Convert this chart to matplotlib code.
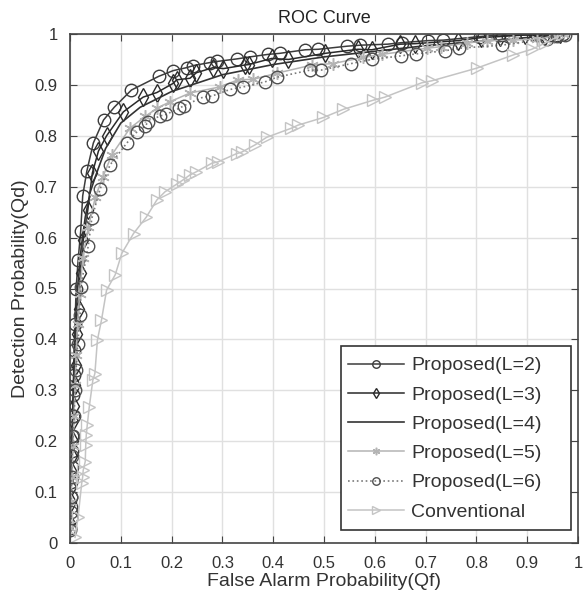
import matplotlib

matplotlib.use('Agg')
import matplotlib.pyplot as plt
from matplotlib.patches import Rectangle

plt.rcParams['font.family'] = ['Liberation Sans', 'DejaVu Sans']

# ROC points
qf_l2 = [0.000, 0.001, 0.001, 0.002, 0.002, 0.003, 0.003, 0.004, 0.005, 0.006, 0.007, 0.008, 0.010, 0.012,
         0.016, 0.021, 0.025, 0.033, 0.046, 0.066, 0.087, 0.121, 0.175, 0.203, 0.230, 0.243, 0.276, 0.289,
         0.328, 0.354, 0.390, 0.413, 0.463, 0.489, 0.545, 0.571, 0.625, 0.653, 0.705, 0.735, 0.807, 0.845,
         0.863, 0.919, 0.945, 0.958, 0.971]
qd_l2 = [0.030, 0.050, 0.070, 0.090, 0.120, 0.150, 0.180, 0.210, 0.250, 0.290, 0.330, 0.380, 0.430, 0.500,
         0.556, 0.612, 0.682, 0.730, 0.786, 0.831, 0.856, 0.890, 0.917, 0.928, 0.934, 0.938, 0.944, 0.946,
         0.951, 0.955, 0.960, 0.962, 0.969, 0.970, 0.976, 0.978, 0.980, 0.983, 0.987, 0.988, 0.995, 0.998,
         0.997, 0.999, 0.998, 0.999, 1.000]

qf_l3 = [0.000, 0.001, 0.002, 0.003, 0.004, 0.005, 0.006, 0.007, 0.009, 0.011, 0.014, 0.017, 0.021, 0.026,
         0.035, 0.044, 0.056, 0.072, 0.105, 0.144, 0.171, 0.203, 0.210, 0.236, 0.249, 0.282, 0.302, 0.344,
         0.352, 0.397, 0.430, 0.502, 0.567, 0.594, 0.650, 0.679, 0.764, 0.810, 0.846, 0.896, 0.935, 0.965]
qd_l3 = [0.040, 0.080, 0.110, 0.140, 0.170, 0.200, 0.240, 0.270, 0.310, 0.350, 0.410, 0.460, 0.530, 0.595,
         0.654, 0.727, 0.770, 0.800, 0.847, 0.876, 0.885, 0.903, 0.910, 0.913, 0.924, 0.934, 0.932, 0.939,
         0.940, 0.952, 0.950, 0.962, 0.970, 0.969, 0.980, 0.981, 0.987, 0.993, 0.995, 0.998, 0.996, 1.000]

qf_l4 = [0.000, 0.003, 0.006, 0.010, 0.015, 0.022, 0.030, 0.040, 0.050, 0.070, 0.100, 0.138, 0.150, 0.200,
         0.300, 0.400, 0.500, 0.600, 0.700, 0.800, 0.900, 0.970]
qd_l4 = [0.030, 0.150, 0.280, 0.400, 0.500, 0.580, 0.640, 0.690, 0.720, 0.775, 0.825, 0.856, 0.862, 0.887,
         0.920, 0.940, 0.955, 0.966, 0.977, 0.985, 0.993, 1.000]

qf_l5 = [0.000, 0.002, 0.004, 0.006, 0.008, 0.010, 0.012, 0.015, 0.019, 0.025, 0.036, 0.050, 0.065, 0.082,
         0.118, 0.148, 0.171, 0.197, 0.236, 0.295, 0.331, 0.361, 0.407, 0.476, 0.518, 0.577, 0.614, 0.702,
         0.730, 0.781, 0.820, 0.873, 0.920, 0.953, 0.970]
qd_l5 = [0.030, 0.080, 0.130, 0.190, 0.250, 0.310, 0.370, 0.430, 0.490, 0.560, 0.620, 0.680, 0.720, 0.762,
         0.815, 0.838, 0.854, 0.867, 0.884, 0.896, 0.910, 0.911, 0.923, 0.939, 0.942, 0.954, 0.960, 0.972,
         0.975, 0.982, 0.987, 0.988, 0.990, 0.995, 1.000]

qf_l6 = [0.000, 0.001, 0.002, 0.003, 0.004, 0.006, 0.008, 0.010, 0.012, 0.015, 0.020, 0.021, 0.036, 0.043,
         0.059, 0.079, 0.112, 0.132, 0.148, 0.154, 0.177, 0.189, 0.215, 0.224, 0.262, 0.279, 0.315, 0.341,
         0.384, 0.407, 0.472, 0.494, 0.554, 0.594, 0.651, 0.682, 0.738, 0.766, 0.850, 0.938, 0.958, 0.975]
qd_l6 = [0.025, 0.060, 0.090, 0.130, 0.170, 0.210, 0.250, 0.300, 0.340, 0.390, 0.448, 0.502, 0.584, 0.638,
         0.695, 0.743, 0.786, 0.808, 0.819, 0.828, 0.839, 0.842, 0.854, 0.859, 0.876, 0.878, 0.891, 0.896,
         0.906, 0.915, 0.929, 0.929, 0.942, 0.950, 0.957, 0.961, 0.967, 0.972, 0.978, 0.991, 0.996, 0.998]

qf_conv = [0.010, 0.016, 0.023, 0.025, 0.026, 0.030, 0.031, 0.032, 0.034, 0.038, 0.045, 0.049, 0.054, 0.062,
           0.072, 0.089, 0.102, 0.125, 0.150, 0.171, 0.187, 0.210, 0.222, 0.236, 0.248, 0.279, 0.292, 0.328,
           0.338, 0.364, 0.387, 0.436, 0.449, 0.499, 0.538, 0.597, 0.620, 0.692, 0.712, 0.801, 0.873, 0.909,
           0.935, 0.970]
qd_conv = [0.011, 0.052, 0.117, 0.130, 0.143, 0.160, 0.193, 0.212, 0.232, 0.268, 0.320, 0.333, 0.399, 0.438,
           0.497, 0.527, 0.569, 0.608, 0.640, 0.674, 0.690, 0.705, 0.713, 0.723, 0.729, 0.746, 0.749, 0.765,
           0.768, 0.782, 0.797, 0.815, 0.821, 0.836, 0.852, 0.870, 0.876, 0.904, 0.908, 0.933, 0.959, 0.970,
           0.982, 1.000]

ticks = [0, 0.1, 0.2, 0.3, 0.4, 0.5, 0.6, 0.7, 0.8, 0.9, 1]
tick_labels = ['0', '0.1', '0.2', '0.3', '0.4', '0.5', '0.6', '0.7', '0.8', '0.9', '1']

fig = plt.figure(figsize=(5.87, 6.02), dpi=100)
ax = fig.add_axes([70 / 587, 59 / 602, 508 / 587, 509 / 602])

ax.plot(qf_l2, qd_l2, '-', color='#3c3c3c', lw=1.1, marker='o', ms=9, mfc='none', mec='#3c3c3c',
        mew=1.0, label='Proposed(L=2)')
ax.plot(qf_l3, qd_l3, '-', color='#2a2a2a', lw=1.1, marker='d', ms=9, mfc='none', mec='#2a2a2a',
        mew=1.0, label='Proposed(L=3)')
ax.plot(qf_l4, qd_l4, '-', color='#333333', lw=1.2, label='Proposed(L=4)')
ax.plot(qf_l5, qd_l5, '-', color='#b4b4b4', lw=1.1, marker=(6, 2, 0), ms=9, mec='#b4b4b4',
        mew=1.1, label='Proposed(L=5)')
ax.plot(qf_l6, qd_l6, ':', color='#7a7a7a', lw=1.2, marker='o', ms=9, mfc='none', mec='#505050',
        mew=1.0, label='Proposed(L=6)')
ax.plot(qf_conv, qd_conv, '-', color='#c4c4c4', lw=1.1, marker='>', ms=9, mfc='none', mec='#c4c4c4',
        mew=1.0, label='Conventional')

ax.set_xlim(0, 1)
ax.set_ylim(0, 1)
ax.set_xticks(ticks)
ax.set_xticklabels(tick_labels)
ax.set_yticks(ticks)
ax.set_yticklabels(tick_labels)
ax.grid(True, color='#e0e0e0', lw=1.0)
ax.set_axisbelow(True)
ax.tick_params(direction='in', top=True, right=True, length=5, color='#444444',
               labelsize=12, labelcolor='#333333', pad=9)
for spine in ax.spines.values():
    spine.set_color('#444444')
    spine.set_linewidth(1.2)

ax.set_title('ROC Curve', fontsize=13, color='#222222', pad=8)
ax.set_xlabel('False Alarm Probability(Qf)', fontsize=14, color='#333333', labelpad=2)
ax.set_ylabel('Detection Probability(Qd)', fontsize=14, color='#333333', labelpad=4)

# MATLAB-style legend box: wider on the right than the entries need
ax.add_patch(Rectangle((0.533, 0.0255), 0.453, 0.362, transform=ax.transAxes, facecolor='white',
                       edgecolor='#333333', lw=1.2, zorder=4))
leg = ax.legend(loc='upper left', bbox_to_anchor=(0.547, 0.366), fontsize=14, frameon=False,
                handlelength=2.9, borderpad=0, labelspacing=0.6, handletextpad=0.35,
                borderaxespad=0, markerscale=0.6)
leg.set_zorder(5)
for txt in leg.get_texts():
    txt.set_color('#333333')

fig.savefig('out.png', dpi=100, facecolor='white')
